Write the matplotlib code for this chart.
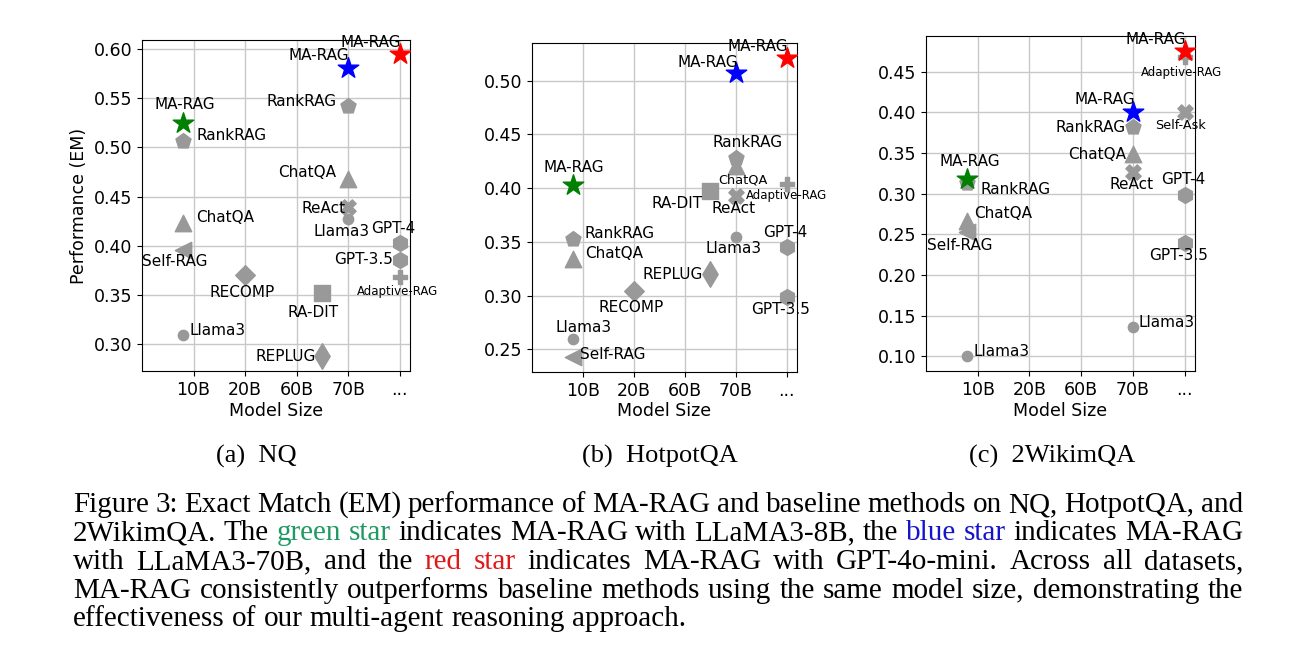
import matplotlib
matplotlib.use('Agg')
import matplotlib.pyplot as plt

# values (EM per method / model size)
nq_methods = ['MA-RAG', 'RankRAG', 'ChatQA', 'Self-RAG', 'Llama3', 'RECOMP', 'RA-DIT', 'REPLUG',
              'MA-RAG', 'RankRAG', 'ChatQA', 'ReAct', 'Llama3',
              'MA-RAG', 'GPT-4', 'GPT-3.5', 'Adaptive-RAG']
nq_sizes = ['8B', '8B', '8B', '8B', '8B', '20B', '65B', '65B',
            '70B', '70B', '70B', '70B', '70B',
            'API', 'API', 'API', 'API']
nq_em = [0.525, 0.506, 0.423, 0.396, 0.310, 0.370, 0.352, 0.288,
         0.581, 0.542, 0.468, 0.439, 0.427,
         0.595, 0.403, 0.386, 0.368]

hotpot_methods = ['MA-RAG', 'RankRAG', 'ChatQA', 'Llama3', 'Self-RAG', 'RECOMP', 'RA-DIT', 'REPLUG',
                  'MA-RAG', 'ChatQA', 'RankRAG', 'ReAct', 'Llama3',
                  'MA-RAG', 'Adaptive-RAG', 'GPT-4', 'GPT-3.5']
hotpot_sizes = ['8B', '8B', '8B', '8B', '8B', '20B', '65B', '65B',
                '70B', '70B', '70B', '70B', '70B',
                'API', 'API', 'API', 'API']
hotpot_em = [0.403, 0.353, 0.334, 0.260, 0.243, 0.304, 0.397, 0.320,
             0.507, 0.421, 0.428, 0.393, 0.355,
             0.521, 0.404, 0.345, 0.299]

wiki_methods = ['RankRAG', 'MA-RAG', 'ChatQA', 'Self-RAG', 'Llama3',
                'MA-RAG', 'RankRAG', 'ChatQA', 'ReAct', 'Llama3',
                'Adaptive-RAG', 'MA-RAG', 'Self-Ask', 'GPT-4', 'GPT-3.5']
wiki_sizes = ['8B', '8B', '8B', '8B', '8B',
              '70B', '70B', '70B', '70B', '70B',
              'API', 'API', 'API', 'API', 'API']
wiki_em = [0.313, 0.318, 0.267, 0.253, 0.100,
           0.401, 0.382, 0.349, 0.327, 0.136,
           0.468, 0.476, 0.401, 0.299, 0.240]

tick_labels = ['10B', '20B', '60B', '70B', '...']
nq_yticks = [0.30, 0.35, 0.40, 0.45, 0.50, 0.55, 0.60]
hotpot_yticks = [0.25, 0.30, 0.35, 0.40, 0.45, 0.50]
wiki_yticks = [0.10, 0.15, 0.20, 0.25, 0.30, 0.35, 0.40, 0.45]
subcaptions = ['(a)  NQ', '(b)  HotpotQA', '(c)  2WikimQA']

# where each model size sits on the categorical x axis
size_pos = {'8B': 0.8, '20B': 2.0, '65B': 3.5, '70B': 4.0, 'API': 5.0}

markers = {'MA-RAG': ('*', 240), 'RankRAG': ('p', 130), 'ChatQA': ('^', 140),
           'Self-RAG': ('<', 140), 'Llama3': ('o', 55), 'RECOMP': ('D', 100),
           'RA-DIT': ('s', 130), 'REPLUG': ('d', 170), 'ReAct': ('X', 120),
           'Self-Ask': ('X', 120), 'GPT-4': ('h', 130), 'GPT-3.5': ('h', 130),
           'Adaptive-RAG': ('P', 110)}
star_colors = {'8B': 'green', '70B': 'blue', 'API': 'red'}
gray = '#999999'

# label offsets in pixels: (dx, dy, ha, fontsize)
nq_labels = {
    ('MA-RAG', '8B'): (2, 18, 'center', 11), ('RankRAG', '8B'): (13, 6, 'left', 11),
    ('ChatQA', '8B'): (13, 6, 'left', 11), ('Self-RAG', '8B'): (-8, -12, 'center', 11),
    ('Llama3', '8B'): (6, 4, 'left', 11), ('RECOMP', '20B'): (-3, -17, 'center', 11),
    ('RA-DIT', '65B'): (-9, -19, 'center', 11), ('REPLUG', '65B'): (-7, 0, 'right', 11),
    ('MA-RAG', '70B'): (1, 12, 'right', 11), ('RankRAG', '70B'): (-12, 5, 'right', 11),
    ('ChatQA', '70B'): (-12, 6, 'right', 11), ('ReAct', '70B'): (-3, -1, 'right', 11),
    ('Llama3', '70B'): (-7, -12, 'center', 11), ('MA-RAG', 'API'): (-29, 11, 'center', 11),
    ('GPT-4', 'API'): (-6, 14, 'center', 11), ('GPT-3.5', 'API'): (-7, 0, 'right', 11),
    ('Adaptive-RAG', 'API'): (-2, -14, 'center', 8.5),
}
hotpot_labels = {
    ('MA-RAG', '8B'): (1, 17, 'center', 11), ('RankRAG', '8B'): (12, 5, 'left', 11),
    ('ChatQA', '8B'): (12, 6, 'left', 11), ('Llama3', '8B'): (11, 11, 'center', 11),
    ('Self-RAG', '8B'): (7, 2, 'left', 11), ('RECOMP', '20B'): (-3, -16, 'center', 11),
    ('REPLUG', '65B'): (-7, 0, 'right', 11), ('RA-DIT', '65B'): (-8, -12, 'right', 11),
    ('MA-RAG', '70B'): (2, 11, 'right', 11), ('RankRAG', '70B'): (12, 16, 'center', 11),
    ('ChatQA', '70B'): (7, -14, 'center', 9.3), ('ReAct', '70B'): (-2, -13, 'center', 11),
    ('Llama3', '70B'): (-2, -12, 'center', 11), ('MA-RAG', 'API'): (-29, 12, 'center', 11),
    ('Adaptive-RAG', 'API'): (-41, -12, 'left', 8.5), ('GPT-4', 'API'): (-2, 15, 'center', 11),
    ('GPT-3.5', 'API'): (-6, -13, 'center', 11),
}
wiki_labels = {
    ('MA-RAG', '8B'): (2, 18, 'center', 11), ('RankRAG', '8B'): (13, -6, 'left', 11),
    ('ChatQA', '8B'): (7, 7, 'left', 11), ('Self-RAG', '8B'): (-8, -14, 'center', 11),
    ('Llama3', '8B'): (6, 5, 'left', 11), ('MA-RAG', '70B'): (2, 12, 'right', 11),
    ('RankRAG', '70B'): (-7, 0, 'right', 11), ('ChatQA', '70B'): (-7, -1, 'right', 11),
    ('ReAct', '70B'): (-1, -13, 'center', 11), ('Llama3', '70B'): (6, 5, 'left', 11),
    ('MA-RAG', 'API'): (-29, 11, 'center', 11), ('Adaptive-RAG', 'API'): (-3, -15, 'center', 8.5),
    ('Self-Ask', 'API'): (-4, -14, 'center', 9.2), ('GPT-4', 'API'): (-1, 15, 'center', 11),
    ('GPT-3.5', 'API'): (-6, -13, 'center', 11),
}

green_txt = '#1f9a62'
blue_txt = '#1414c8'
red_txt = '#e01818'
caption_lines = [
    [("Figure 3: Exact Match (EM) performance of MA-RAG and baseline methods on NQ, HotpotQA, and", 'black')],
    [("2WikimQA. The", 'black'), ("green star", green_txt),
     ("indicates MA-RAG with LLaMA3-8B, the", 'black'), ("blue star", blue_txt),
     ("indicates MA-RAG", 'black')],
    [("with LLaMA3-70B, and the", 'black'), ("red star", red_txt),
     ("indicates MA-RAG with GPT-4o-mini.  Across all datasets,", 'black')],
    [("MA-RAG consistently outperforms baseline methods using the same model size, demonstrating the", 'black')],
    [("effectiveness of our multi-agent reasoning approach.", 'black')],
]

W, H = 1300, 670
fig = plt.figure(figsize=(W / 100, H / 100), dpi=100)

# axes boxes in pixels: left, bottom(from top), right, top
boxes = [(142, 371, 410, 40), (532, 372, 797, 43), (926, 371, 1195, 36)]
ylims = [(0.273, 0.609), (0.229, 0.535), (0.082, 0.494)]
panels = [(nq_methods, nq_sizes, nq_em, nq_labels, nq_yticks),
          (hotpot_methods, hotpot_sizes, hotpot_em, hotpot_labels, hotpot_yticks),
          (wiki_methods, wiki_sizes, wiki_em, wiki_labels, wiki_yticks)]

for i, (methods, sizes, ems, labels, yticks) in enumerate(panels):
    l, b, r, t = boxes[i]
    ax = fig.add_axes([l / W, 1 - b / H, (r - l) / W, (b - t) / H])
    for name, size, v in zip(methods, sizes, ems):
        m, sz = markers[name]
        x = size_pos[size]
        if name == 'MA-RAG':
            ax.scatter(x, v, marker=m, s=sz, c=star_colors[size], zorder=5)
        else:
            ax.scatter(x, v, marker=m, s=sz, c=gray, zorder=3)
        dx, dy, ha, fs = labels[(name, size)]
        ax.annotate(name, (x, v), xytext=(dx, dy), textcoords='offset pixels',
                    ha=ha, va='center', fontsize=fs, zorder=6)
    ax.set_xlim(0, 5.2)
    ax.set_ylim(*ylims[i])
    ax.set_xticks([1, 2, 3, 4, 5])
    ax.set_xticklabels(tick_labels)
    ax.set_yticks(yticks)
    ax.set_yticklabels(['%.2f' % y for y in yticks])
    ax.tick_params(labelsize=12.5)
    ax.grid(True, color='#c8c8c8', linewidth=1.0)
    ax.set_axisbelow(True)
    ax.set_xlabel('Model Size', fontsize=12.5, labelpad=2)
    if i == 0:
        ax.set_ylabel('Performance (EM)', fontsize=12.5)

# sub captions
for cx, txt in zip([256, 660, 1052], subcaptions):
    fig.text(cx / W, 1 - 463 / H, txt, ha='center', va='baseline',
             fontsize=19, family='Liberation Serif')

# justified caption, placed word by word
renderer = fig.canvas.get_renderer()
x0, x1 = 73, 1243
baselines = [512, 540.5, 569, 597.5, 626]


def line_words(line):
    words = []
    for seg, col in line:
        for w in seg.split(' '):
            if w:
                words.append((w, col))
    return words


def measure(word, fs):
    t = fig.text(0, 0, word, fontsize=fs, family='Liberation Serif')
    wd = t.get_window_extent(renderer).width
    t.remove()
    return wd


base_fs = 20
space_w = measure('a a', base_fs) - measure('aa', base_fs)
natural = []
for line in caption_lines[:-1]:
    ws = line_words(line)
    natural.append(sum(measure(w, base_fs) for w, c in ws) + space_w * (len(ws) - 1))
cap_fs = base_fs * 1180 / max(natural)

for k, line in enumerate(caption_lines):
    ws = line_words(line)
    widths = [measure(w, cap_fs) for w, c in ws]
    if k < len(caption_lines) - 1:
        gap = (x1 - x0 - sum(widths)) / (len(ws) - 1)
    else:
        gap = space_w * cap_fs / base_fs
    x = x0
    for (w, col), wd in zip(ws, widths):
        fig.text(x / W, 1 - baselines[k] / H, w, fontsize=cap_fs, color=col,
                 family='Liberation Serif', va='baseline', ha='left')
        x += wd + gap

fig.savefig('out.png', dpi=100)
